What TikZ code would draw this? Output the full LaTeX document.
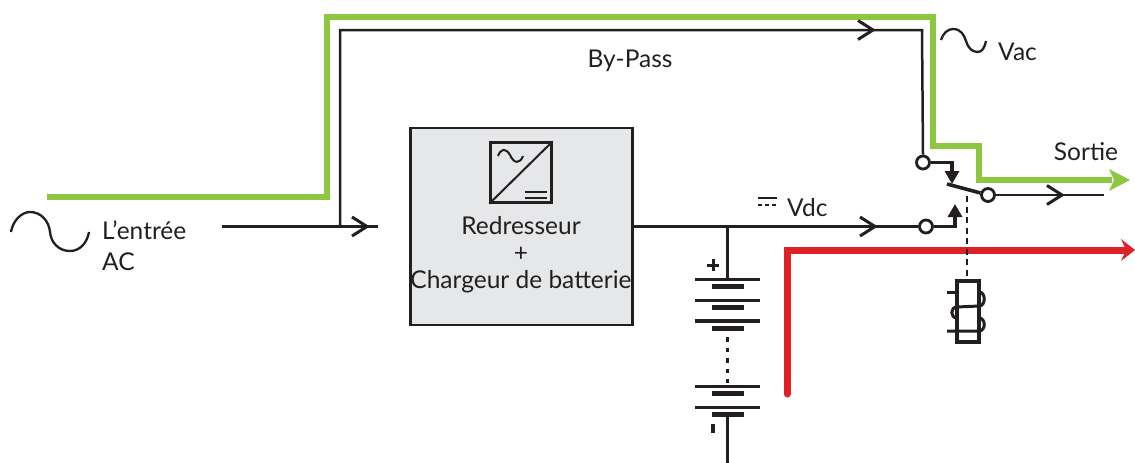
\documentclass[tikz,border=0pt]{standalone}
\usepackage{fontspec}
\setmainfont{Lato}
\usetikzlibrary{arrows.meta,calc}
\definecolor{ink}{HTML}{231F20}
\definecolor{grn}{HTML}{8DC63F}
\definecolor{rd}{HTML}{DF2027}
\definecolor{boxg}{HTML}{E6E7E8}
\tikzset{
  wire/.style={draw=ink,line width=2.5pt},
  chevmark/.style={draw=ink,line width=3pt,line join=miter},
  thick wire/.style={draw=ink,line width=3.6pt},
  power/.style={line width=6pt,line join=miter},
  term/.style={circle,draw=ink,fill=white,line width=2.8pt,minimum size=13pt,inner sep=0pt},
  lbl/.style={font=\fontsize{24.5}{28}\selectfont,text=ink,inner sep=0pt},
  longp/.style={draw=ink,line width=3.2pt},
  shortp/.style={draw=ink,line width=5.2pt},
}
\newcommand{\chevat}[1]{\draw[chevmark] ($(#1)+(-15,-9.5)$) -- (#1) -- ($(#1)+(-15,9.5)$);}
\begin{document}
\begin{tikzpicture}[x=1pt,y=-1pt]
\useasboundingbox (0,0) rectangle (1135,463);
% power flows
\coordinate (gs) at (47,197); \coordinate (g1) at (327,197); \coordinate (g2) at (327,17);
\coordinate (g3) at (933,17); \coordinate (g4) at (933,146); \coordinate (g5) at (979,146);
\coordinate (g6) at (979,180); \coordinate (ge) at (1130,180);
\draw[grn,power] (gs) -- (g1) -- (g2) -- (g3) -- (g4) -- (g5) -- (g6) -- ($(ge)+(-18,0)$);
\fill[grn] (ge) -- ($(ge)+(-21,-11)$) -- ($(ge)+(-16,0)$) -- ($(ge)+(-21,11)$) -- cycle;
\coordinate (rs) at (787,394); \coordinate (r1) at (787,250); \coordinate (re) at (1135,250);
\draw[rd,line width=7pt,line cap=round] (rs) -- (r1) -- ($(re)+(-8,0)$);
\fill[rd] (re) -- ($(re)+(-14,-11)$) -- ($(re)+(-9,0)$) -- ($(re)+(-14,11)$) -- cycle;
% input
\coordinate (in) at (222,226.5); \coordinate (tee) at (340,226.5); \coordinate (inm) at (367,226.5); \coordinate (ine) at (378,226.5);
\draw[wire] (in) -- (ine);
\chevat{inm}
% bypass
\coordinate (b1) at (340,30); \coordinate (bm) at (873,30); \coordinate (b2) at (922,30);
\node[term] (t1) at (923,162.5) {};
\draw[wire] (tee) -- (b1) -- (b2) -- (t1.north);
\chevat{bm}
% rectifier
\node[draw=ink,fill=boxg,line width=2.8pt,minimum width=222pt,minimum height=197pt,inner sep=0pt] (rect) at (521.5,226.5) {};
\node[draw=ink,line width=2.4pt,minimum width=61pt,minimum height=60pt,inner sep=0pt] (conv) at (521,172.5) {};
\draw[ink,line width=2pt] (conv.south west) -- (conv.north east);
\draw[ink,line width=2pt] (498,156) .. controls (501,148) and (506,148) .. (510,155) .. controls (514,164) and (520,164) .. (523,156);
\draw[ink,line width=1.8pt] (525,192) -- (547,192) (525,198) -- (547,198);
\node[lbl] at (521,226) {Redresseur};
\node[lbl] at (521,254) {+};
\node[lbl] at (521,282) {Chargeur de batterie};
% dc bus
\node[term] (t2) at (926,226.5) {};
\coordinate (dcm) at (875,226.5); \coordinate (bat) at (727.5,226.5);
\draw[wire] (rect.east |- dcm) -- (t2.west);
\chevat{dcm}
\node[lbl,anchor=west] at (787,208) {Vdc};
\draw[ink,line width=1.8pt] (758,198) -- (777,198);
\draw[ink,line width=1.8pt,dash pattern=on 4pt off 3pt] (758,205) -- (777,205);
% battery
\coordinate (p1) at (727.5,279.5); \coordinate (bb) at (727.5,415); \coordinate (be) at (727.5,463);
\draw[wire] (bat) -- (p1);
\foreach \y in {279.5,300.3,321,386.5,407.3} {\draw[longp] (695,\y) -- (760,\y);}
\foreach \y in {286.8,307.5,328.3,393.8,414.6} {\draw[shortp] (712,\y) -- (744,\y);}
\draw[ink,line width=2.8pt,dash pattern=on 4.5pt off 6pt] (727.5,337) -- (727.5,383);
\draw[wire] (bb) -- (be);
\draw[ink,line width=3pt] (707,265) -- (719,265) (713,259) -- (713,271);
\draw[ink,line width=3.4pt] (713,424) -- (713,433);
% switch
\node[term] (t3) at (988,195) {};
\coordinate (sw) at (947,184); \coordinate (a1) at (952,162.5); \coordinate (a1e) at (952,184);
\coordinate (a2) at (955,226.5); \coordinate (a2e) at (955,204);
\draw[thick wire] (sw) -- (t3);
\draw[thick wire,-{Triangle[length=13pt,width=14pt]}] (t1.east) -- (a1) -- (a1e);
\draw[thick wire,-{Triangle[length=13pt,width=14pt]}] (t2.east) -- (a2) -- (a2e);
\coordinate (om) at (1062,195); \coordinate (oe) at (1104,195);
\draw[wire] (t3.east) -- (oe);
\chevat{om}
\draw[ink,line width=2.8pt,dash pattern=on 6pt off 4.5pt] (967,196) -- (967,281);
% relay
\draw[ink,line width=3.2pt] (957,281) rectangle (979,342);
\draw[ink,line width=3pt] (947,292) -- (957,292);
\draw[ink,line width=3pt] (947,331) -- (979,331)
  .. controls (986,331) and (986,318) .. (979,318);
\draw[ink,line width=3pt] (979,292) .. controls (986,292) and (986,306) .. (979,306) -- (957,307)
  .. controls (950,307) and (950,318) .. (957,318);
% sines
\draw[ink,line width=2.3pt] (11,232) .. controls (13,220) and (22,212) .. (30,212) .. controls (41,212) and (49,221) .. (50,232) .. controls (51,243) and (59,251) .. (70,251) .. controls (80,251) and (87,243) .. (89,232);
\draw[ink,line width=2.3pt] (941,40) .. controls (943,33) and (948,29) .. (953,29) .. controls (961,29) and (964,35) .. (966,41) .. controls (968,48) and (972,52) .. (978,52) .. controls (982,52) and (985,47) .. (986,41);
% labels
\node[lbl,anchor=west] at (998,52) {Vac};
\node[lbl] at (630,61) {By-Pass};
\node[lbl] at (1086,152) {Sortie};
\node[lbl,anchor=west] at (102,230) {L’entrée};
\node[lbl,anchor=west] at (102,262) {AC};
\end{tikzpicture}
\end{document}
